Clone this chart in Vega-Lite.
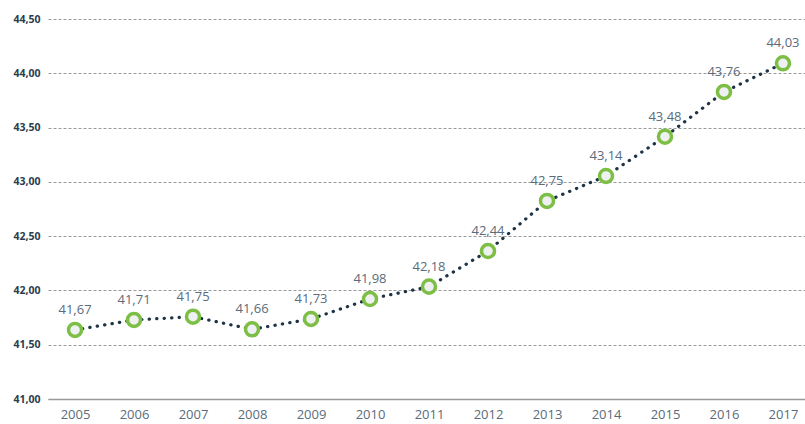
{
  "$schema": "https://vega.github.io/schema/vega-lite/v6.json",
  "autosize": "none",
  "width": 762,
  "height": 380,
  "padding": {"left": 48, "top": 19, "right": 0, "bottom": 25},
  "background": "white",
  "config": {"view": {"stroke": null}},
  "data": {"values": [
    {"year": "2005", "value": 41.636, "label": "41,67"},
    {"year": "2006", "value": 41.728, "label": "41,71"},
    {"year": "2007", "value": 41.758, "label": "41,75"},
    {"year": "2008", "value": 41.642, "label": "41,66"},
    {"year": "2009", "value": 41.737, "label": "41,73"},
    {"year": "2010", "value": 41.921, "label": "41,98"},
    {"year": "2011", "value": 42.035, "label": "42,18"},
    {"year": "2012", "value": 42.363, "label": "42,44"},
    {"year": "2013", "value": 42.824, "label": "42,75"},
    {"year": "2014", "value": 43.054, "label": "43,14"},
    {"year": "2015", "value": 43.416, "label": "43,48"},
    {"year": "2016", "value": 43.828, "label": "43,76"},
    {"year": "2017", "value": 44.092, "label": "44,03"}
  ]},
  "encoding": {
    "x": {"field": "year", "type": "ordinal", "scale": {"type": "point", "padding": 0.458},
      "axis": {"title": null, "domainColor": "#999999", "domainWidth": 1.5, "ticks": false, "labelAngle": 0, "labelFont": "Open Sans", "labelFontSize": 13, "labelColor": "#5a6b7c", "labelPadding": 9}},
    "y": {"field": "value", "type": "quantitative", "scale": {"domain": [41, 44.5], "nice": false, "zero": false},
      "axis": {"title": null, "values": [41, 41.5, 42, 42.5, 43, 43.5, 44, 44.5], "labelExpr": "replace(format(datum.value, '.2f'), '.', ',')", "domain": false, "ticks": false, "grid": true, "gridColor": "#9a9a9a", "gridDash": [3, 2], "gridWidth": 1, "labelFont": "Open Sans", "labelFontSize": 10.5, "labelFontWeight": "bold", "labelColor": "#2a3d4f", "labelPadding": 8}}
  },
  "layer": [
    {"mark": {"type": "line", "color": "#1e3346", "strokeWidth": 3.2, "strokeDash": [0.3, 7.2], "strokeCap": "round"}},
    {"mark": {"type": "point", "shape": "circle", "filled": false, "size": 170, "stroke": "#7cbf44", "strokeWidth": 3.5, "fill": "#eef0f2", "fillOpacity": 1, "opacity": 1}},
    {"mark": {"type": "text", "dy": -20, "font": "Open Sans", "fontSize": 13, "color": "#5a6b7c"}, "encoding": {"text": {"field": "label"}}}
  ]
}
